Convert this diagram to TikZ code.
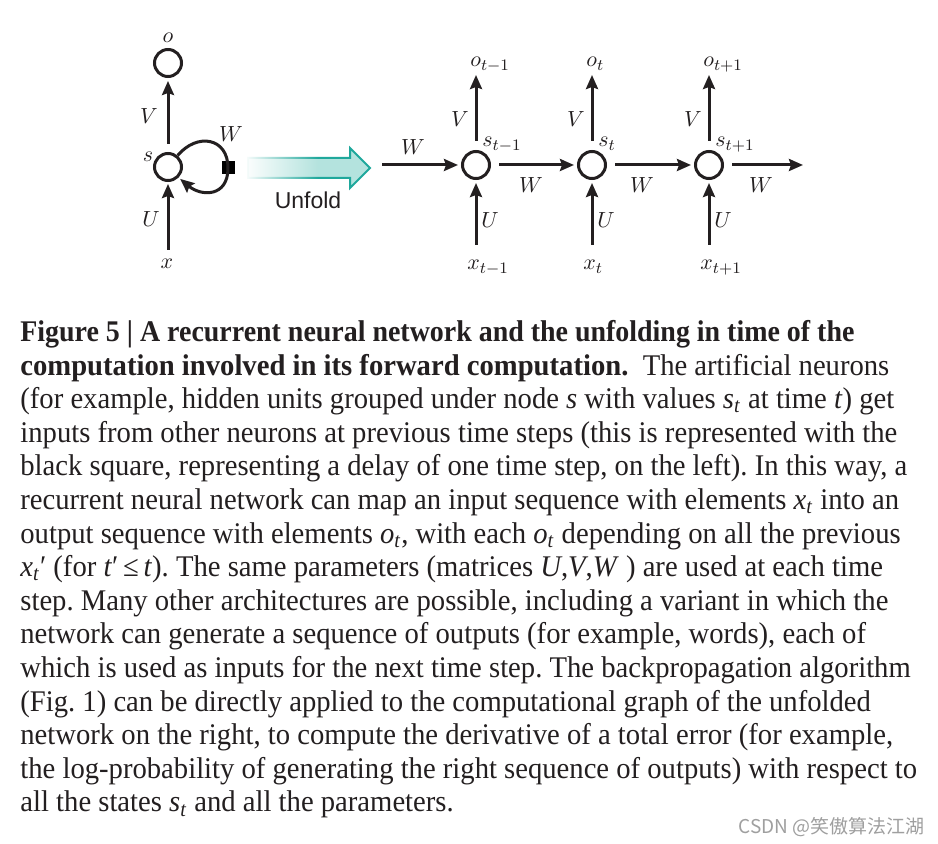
\documentclass[tikz,border=0pt]{standalone}
\usepackage{fontspec}
\setmainfont{Liberation Serif}
\newfontfamily\unfoldfont{Liberation Sans}
\newfontfamily\cjkfont{Noto Sans CJK SC}
\usepackage{graphicx}
\usetikzlibrary{arrows.meta,fadings}
\definecolor{ink}{HTML}{231F20}
\definecolor{unfoldline}{HTML}{1FA89C}
\definecolor{unfoldfill}{HTML}{B4E3DE}
\newcommand{\ivar}[2]{\textit{#1}\textsubscript{\textit{#2}}}
\frenchspacing

\begin{document}
\begin{tikzpicture}[
  x=0.5pt, y=-0.5pt,
  neuron/.style={circle, draw=ink, line width=1.5pt, minimum size=13.5pt, inner sep=0pt},
  delay/.style={fill=black, minimum size=6.5pt, inner sep=0pt},
  lbl/.style={font=\fontsize{11}{13}\selectfont, text=ink, inner sep=0pt},
  ar/.style={-{Stealth[length=7pt, width=6pt, inset=1pt]}, line width=1.5pt, draw=ink}]
\useasboundingbox[fill=white] (0,0) rectangle (938,844);

% folded network
\node[neuron] (o) at (168,63) {};
\node[neuron] (s) at (168,167) {};
\coordinate (xin) at (168,250);
\node[delay] (dly) at (228,168) {};
\draw[ar, shorten <=4pt, shorten >=1.5pt] (s) -- (o);
\draw[ar, shorten >=1pt] (xin) -- (s);
\draw[line width=1.5pt, draw=ink] (s.50) to[out=50, in=90, looseness=1.5] (dly.center);
\draw[ar, shorten >=1pt] (dly.center) to[out=-90, in=-40, looseness=1.5] (s.-45);
\node[lbl, anchor=base] (ol) at (168,43) {$o$};
\node[lbl] (vl) at (149,116) {$V$};
\node[lbl, anchor=base] (sl) at (148,162) {$s$};
\node[lbl] (ul) at (151,219) {$U$};
\node[lbl] (xl) at (167,264) {$x$};
\node[lbl] (wl) at (231,134) {$W$};

% unfold arrow
\draw[fill=unfoldfill, draw=unfoldline, line width=1pt, line join=miter]
  (248,158) -- (350,158) -- (350,148) -- (370,168) -- (350,188) -- (350,178) -- (248,178) -- cycle;
\fill[white, path fading=east] (244,144) rectangle (318,192);
\node[font=\unfoldfont\fontsize{11.5}{13}\selectfont, text=ink] (unf) at (308,200) {Unfold};

% unfolded network
\foreach \i/\xx/\sub in {1/476/t-1, 2/592/t, 3/709/t+1} {
  \node[neuron] (s\i) at (\xx,165) {};
  \coordinate (ot\i) at (\xx,75);
  \coordinate (xb\i) at (\xx,245);
  \draw[ar, shorten <=4.5pt] (s\i) -- (ot\i);
  \draw[ar, shorten >=1.5pt] (xb\i) -- (s\i);
  \node[lbl, anchor=base west] (sl\i) at (\xx+6,147) {$s_{\sub}$};
  \node[lbl, anchor=base west] (ol\i) at (\xx-6,67) {$o_{\sub}$};
  \node[lbl, anchor=base west] (xl\i) at (\xx-9,270) {$x_{\sub}$};
  \node[lbl] (vl\i) at (\xx-16,119) {$V$};
  \node[lbl] (ul\i) at (\xx+14,220) {$U$};
}
\coordinate (win) at (382,165);
\coordinate (wout) at (803,165);
\draw[ar, shorten >=1.5pt] (win) -- (s1);
\draw[ar, shorten <=4pt, shorten >=1.5pt] (s1) -- (s2);
\draw[ar, shorten <=4pt, shorten >=1.5pt] (s2) -- (s3);
\draw[ar, shorten <=4pt] (s3) -- (wout);
\node[lbl] (w0) at (413,147) {$W$};
\node[lbl] (w1) at (531,185) {$W$};
\node[lbl] (w2) at (642,185) {$W$};
\node[lbl] (w3) at (761,185) {$W$};

% caption
\node[anchor=north west, inner sep=0pt, text=ink] (cap) at (20,317.5) {\scalebox{0.955}[1]{\fontsize{15}{16.8}\selectfont
  \begin{tabular}{@{}l@{}}
  \scalebox{0.975}[1]{\textbf{Figure 5 | A recurrent neural network and the unfolding in time of the}}\\
  \textbf{computation involved in its forward computation.}\ \ The artificial neurons\\
  (for example, hidden units grouped under node \textit{s} with values \ivar{s}{t} at time \textit{t}) get\\
  inputs from other neurons at previous time steps (this is represented with the\\
  black square, representing a delay of one time step, on the left). In this way, a\\
  recurrent neural network can map an input sequence with elements \ivar{x}{t} into an\\
  output sequence with elements \ivar{o}{t}, with each \ivar{o}{t} depending on all the previous\\
  \ivar{x}{t}′ (for \textit{t}′\,≤\,\textit{t}). The same parameters (matrices \textit{U},\textit{V},\textit{W} ) are used at each time\\
  step. Many other architectures are possible, including a variant in which the\\
  network can generate a sequence of outputs (for example, words), each of\\
  which is used as inputs for the next time step. The backpropagation algorithm\\
  (Fig. 1) can be directly applied to the computational graph of the unfolded\\
  network on the right, to compute the derivative of a total error (for example,\\
  the log-probability of generating the right sequence of outputs) with respect to\\
  all the states \ivar{s}{t} and all the parameters.
  \end{tabular}}};

% watermark
\node[anchor=base east, inner sep=0pt, text=gray!75, font=\cjkfont\fontsize{9.5}{11}\selectfont] (wm) at (925,833) {CSDN @笑傲算法江湖};
\end{tikzpicture}
\end{document}
